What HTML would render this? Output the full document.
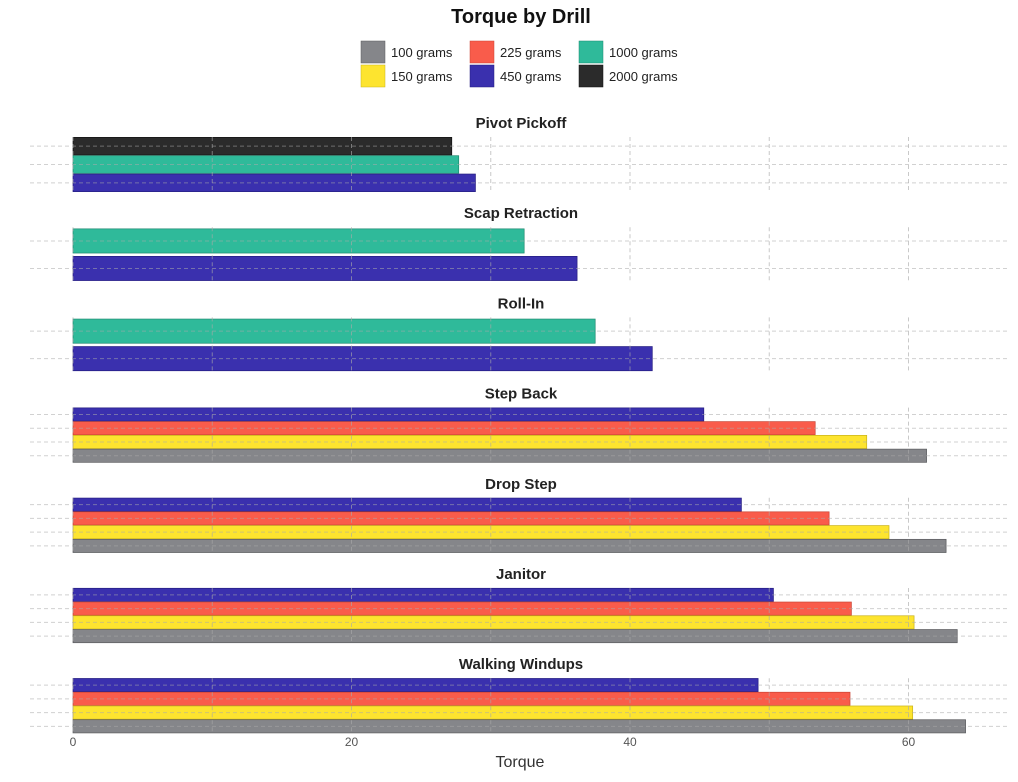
<!DOCTYPE html>
<html><head><meta charset="utf-8"><style>
body{margin:0;background:#fff;font-family:"Liberation Sans",sans-serif}
svg text{font-family:"Liberation Sans",sans-serif}
</style></head><body>
<svg id="c" width="1018" height="777">
<text x="521" y="23" text-anchor="middle" font-size="20" font-weight="bold" fill="#111">Torque by Drill</text>
<g id="legend"></g>
<g id="titles"></g><g id="bars"></g><g id="grid" opacity="0.9"></g><g id="axis"></g>
<text x="520" y="767" text-anchor="middle" font-size="16" fill="#333">Torque</text>
</svg>
<script>
const drills=["Pivot Pickoff","Scap Retraction","Roll-In","Step Back","Drop Step","Janitor","Walking Windups"];
const drillWeights=[["2000","1000","450"],["1000","450"],["1000","450"],["450","225","150","100"],["450","225","150","100"],["450","225","150","100"],["450","225","150","100"]];
const drillValues=[[27.2,27.7,28.9],[32.4,36.2],[37.5,41.6],[45.3,53.3,57.0,61.3],[48.0,54.3,58.6,62.7],[50.3,55.9,60.4,63.5],[49.2,55.8,60.3,64.1]];
const ticks=[0,20,40,60];
const legendKeys=["100","150","225","450","1000","2000"];
const colors={"100":"#85868a","150":"#fde42f","225":"#f95c4b","450":"#3a30ae","1000":"#2fba9a","2000":"#2b2b2b"};
const stroke={"100":"#5a5b5e","150":"#c9b21a","225":"#c94434","450":"#241c80","1000":"#1f8a70","2000":"#111"};
const NS="http://www.w3.org/2000/svg";
function mk(t,a,p){const e=document.createElementNS(NS,t);for(const k in a)e.setAttribute(k,a[k]);p.appendChild(e);return e;}
const x=v=>73+v*13.925;
const grid=document.getElementById('grid'),bars=document.getElementById('bars'),axis=document.getElementById('axis'),leg=document.getElementById('legend'),titles=document.getElementById('titles');
legendKeys.forEach((k,i)=>{const col=Math.floor(i/2),row=i%2;const lx=361+col*109,ly=41+row*24;
 const r=mk('rect',{x:lx,y:ly,width:24,height:22,fill:colors[k],stroke:stroke[k],'stroke-width':0.5},leg);
 
 
 const t=mk('text',{x:lx+30,y:ly+16,'font-size':13,fill:'#222'},leg);t.textContent=k+' grams';
 
 
});
drills.forEach((d,i)=>{const ty=122+i*90.2;const top=ty+15,h=55;
 const t=mk('text',{x:521,y:ty+6,'text-anchor':'middle','font-size':15,'font-weight':'bold',fill:'#222'},titles);t.textContent=d;
 
 
 [0,10,20,30,40,50,60].forEach(v=>{const l=mk('line',{x1:x(v),x2:x(v),y1:top,y2:top+h,stroke:'#aaa','stroke-dasharray':'4,3','stroke-opacity':0.7},grid);
  
  });
 const n=drillWeights[i].length,band=h/n;
 drillWeights[i].forEach((w,j)=>{const cy=top+band*(j+0.5);
  const g=mk('line',{x1:30,x2:1010,y1:cy,y2:cy,stroke:'#aaa','stroke-dasharray':'4,3','stroke-opacity':0.6},grid);
  
  
  const bh=band*(n===2?0.88:0.96);
  const r=mk('rect',{x:x(0),y:cy-bh/2,width:x(drillValues[i][j])-x(0),height:bh,fill:colors[w],stroke:stroke[w],'stroke-width':0.7},bars);
  
  
 });
});
ticks.forEach(v=>{const t=mk('text',{x:x(v),y:746,'text-anchor':'middle','font-size':12,fill:'#555'},axis);t.textContent=v;
 
 });
</script>
</body></html>
